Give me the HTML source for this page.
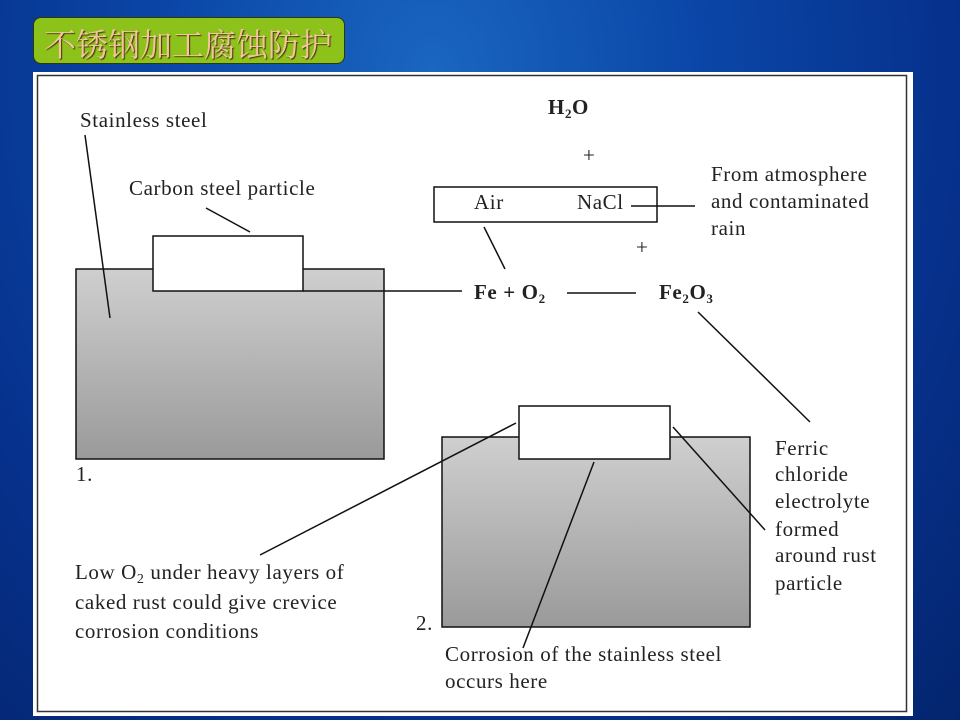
<!DOCTYPE html>
<html><head><meta charset="utf-8"><style>
html,body{margin:0;padding:0;}
body{width:960px;height:720px;overflow:hidden;position:relative;
background:radial-gradient(ellipse at 45% 10%,#1a66c0 0%,#0b47a8 35%,#06318c 70%,#04256e 100%);}
.title{position:absolute;left:33px;top:17px;width:312px;height:47px;background:#8cc21a;border:1px solid #2a3a08;border-radius:8px;box-sizing:border-box;}
.title span{position:absolute;left:10px;top:2px;font:32px "Noto Serif CJK SC","Noto Sans CJK SC",serif;color:#f2c69a;text-shadow:1px 1px 1px #4a3010;white-space:nowrap;}
.panel{position:absolute;left:33px;top:72px;width:880px;height:644px;background:#fff;}
svg{position:absolute;left:0;top:0;}
svg text{font-family:"Liberation Serif",serif;font-size:21px;fill:#222;letter-spacing:0.6px;}
</style></head><body>
<div class="title"><span>不锈钢加工腐蚀防护</span></div>
<div class="panel"></div>
<svg width="960" height="720" viewBox="0 0 960 720">
<defs><linearGradient id="g" x1="0" y1="0" x2="0" y2="1"><stop offset="0" stop-color="#cfcfcf"/><stop offset="1" stop-color="#9a9a9a"/></linearGradient></defs>
<rect x="37.5" y="75.5" width="869" height="636" fill="none" stroke="#333" stroke-width="1.5"/>
<g stroke="#111" stroke-width="1.5" fill="none">
<rect x="76" y="269" width="308" height="190" fill="url(#g)"/>
<rect x="153" y="236" width="150" height="55" fill="#fff"/>
<line x1="303" y1="291" x2="462" y2="291"/>
<line x1="85" y1="135" x2="110" y2="318"/>
<line x1="206" y1="208" x2="250" y2="232"/>
<rect x="442" y="437" width="308" height="190" fill="url(#g)"/>
<rect x="519" y="406" width="151" height="53" fill="#fff"/>
<line x1="516" y1="423" x2="260" y2="555"/>
<line x1="673" y1="427" x2="765" y2="530"/>
<line x1="594" y1="462" x2="523" y2="648"/>
<line x1="698" y1="312" x2="810" y2="422"/>
<rect x="434" y="187" width="223" height="35"/>
<line x1="631" y1="206" x2="695" y2="206"/>
<line x1="484" y1="227" x2="505" y2="269"/>
<line x1="567" y1="293" x2="636" y2="293"/>
</g>
<text x="80" y="127">Stainless steel</text>
<text x="129" y="195">Carbon steel particle</text>
<text x="76" y="481">1.</text>
<text x="548" y="114" font-weight="bold" font-size="20" letter-spacing="0">H<tspan font-size="13" dy="4">2</tspan><tspan dy="-4">O</tspan></text>
<text x="583" y="162">+</text>
<text x="636" y="254">+</text>
<text x="474" y="209">Air</text>
<text x="577" y="209">NaCl</text>
<text x="711" y="181">From atmosphere</text>
<text x="711" y="208">and contaminated</text>
<text x="711" y="235">rain</text>
<text x="474" y="299" font-weight="bold" font-size="20" letter-spacing="0">Fe + O<tspan font-size="13" dy="4">2</tspan></text>
<text x="659" y="299" font-weight="bold" font-size="20" letter-spacing="0">Fe<tspan font-size="13" dy="4">2</tspan><tspan dy="-4">O</tspan><tspan font-size="13" dy="4">3</tspan></text>
<text x="775" y="455">Ferric</text>
<text x="775" y="481">chloride</text>
<text x="775" y="508">electrolyte</text>
<text x="775" y="536">formed</text>
<text x="775" y="562">around rust</text>
<text x="775" y="590">particle</text>
<text x="75" y="579">Low O<tspan font-size="14" dy="4">2</tspan><tspan dy="-4"> under heavy layers of</tspan></text>
<text x="75" y="609">caked rust could give crevice</text>
<text x="75" y="638">corrosion conditions</text>
<text x="416" y="630">2.</text>
<text x="445" y="661">Corrosion of the stainless steel</text>
<text x="445" y="688">occurs here</text>
</svg>
</body></html>
